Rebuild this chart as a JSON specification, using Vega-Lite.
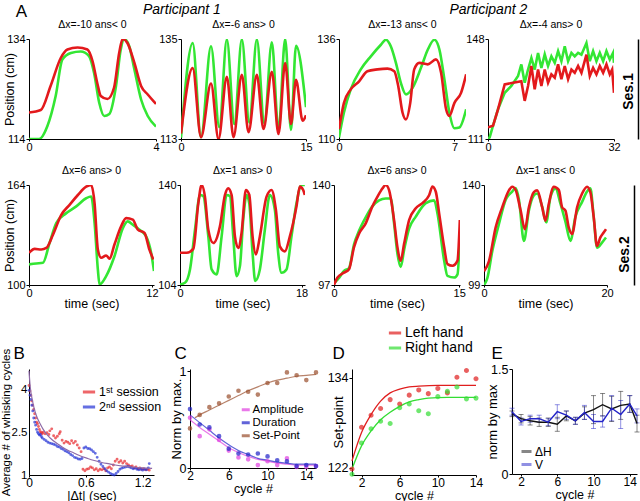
{
"$schema":"https://vega.github.io/schema/vega-lite/v6.json",
"padding":{"left":0,"top":2,"right":0,"bottom":0},
"background":"white",
"datasets":{
"p1":[{"t":0,"y":114,"h":"R"},{"t":0.32,"y":114,"h":"R"},{"t":0.58,"y":116.6,"h":"R"},{"t":0.84,"y":122.6,"h":"R"},{"t":1.05,"y":129.9,"h":"R"},{"t":1.32,"y":131.2,"h":"R"},{"t":1.63,"y":131.5,"h":"R"},{"t":1.89,"y":130.6,"h":"R"},{"t":2.05,"y":127.2,"h":"R"},{"t":2.21,"y":121.3,"h":"R"},{"t":2.37,"y":118.6,"h":"R"},{"t":2.53,"y":119,"h":"R"},{"t":2.74,"y":124.6,"h":"R"},{"t":2.89,"y":131.9,"h":"R"},{"t":3.0,"y":134,"h":"R"},{"t":3.16,"y":132.5,"h":"R"},{"t":3.32,"y":127.9,"h":"R"},{"t":3.53,"y":121.9,"h":"R"},{"t":3.74,"y":118.6,"h":"R"},{"t":4.0,"y":116.5,"h":"R"},
{"t":0,"y":119.3,"h":"L"},{"t":0.37,"y":119.8,"h":"L"},{"t":0.68,"y":124.6,"h":"L"},{"t":1.0,"y":130.2,"h":"L"},{"t":1.21,"y":131.9,"h":"L"},{"t":1.53,"y":132.3,"h":"L"},{"t":1.84,"y":131.9,"h":"L"},{"t":2.0,"y":129.6,"h":"L"},{"t":2.16,"y":124.9,"h":"L"},{"t":2.26,"y":122.6,"h":"L"},{"t":2.47,"y":122,"h":"L"},{"t":2.68,"y":124.3,"h":"L"},{"t":2.84,"y":131.2,"h":"L"},{"t":2.95,"y":134,"h":"L"},{"t":3.1,"y":133.2,"h":"L"},{"t":3.32,"y":129.2,"h":"L"},{"t":3.53,"y":124.6,"h":"L"},{"t":3.74,"y":122.9,"h":"L"},{"t":4.0,"y":121,"h":"L"}],
"p2":[{"t":0,"y":113.3,"h":"R"},{"t":1.4,"y":134.1,"h":"R"},{"t":2.4,"y":113.4,"h":"R"},{"t":3.6,"y":133.4,"h":"R"},{"t":4.6,"y":115.6,"h":"R"},{"t":5.5,"y":134.9,"h":"R"},{"t":6.4,"y":116.3,"h":"R"},{"t":7.3,"y":134.9,"h":"R"},{"t":8.2,"y":116.6,"h":"R"},{"t":9.1,"y":134.9,"h":"R"},{"t":10.0,"y":116.4,"h":"R"},{"t":10.9,"y":134.3,"h":"R"},{"t":11.7,"y":114.8,"h":"R"},{"t":12.5,"y":135,"h":"R"},{"t":13.2,"y":115,"h":"R"},{"t":13.8,"y":133.5,"h":"R"},{"t":15,"y":120,"h":"R"},
{"t":0,"y":114.2,"h":"L"},{"t":1.4,"y":128.6,"h":"L"},{"t":2.4,"y":113.4,"h":"L"},{"t":3.6,"y":125.2,"h":"L"},{"t":4.5,"y":113,"h":"L"},{"t":5.5,"y":126.7,"h":"L"},{"t":6.3,"y":113.4,"h":"L"},{"t":7.3,"y":127.1,"h":"L"},{"t":8.1,"y":114.5,"h":"L"},{"t":9.1,"y":127.1,"h":"L"},{"t":9.9,"y":115.2,"h":"L"},{"t":10.9,"y":127.8,"h":"L"},{"t":11.7,"y":114.1,"h":"L"},{"t":12.5,"y":129.7,"h":"L"},{"t":13.2,"y":116.3,"h":"L"},{"t":13.8,"y":126,"h":"L"},{"t":14.6,"y":117,"h":"L"},{"t":15,"y":118.2,"h":"L"}],
"p3":[{"t":0,"y":110.4,"h":"R"},{"t":0.3,"y":116.9,"h":"R"},{"t":0.71,"y":122.9,"h":"R"},{"t":1.32,"y":128.1,"h":"R"},{"t":1.93,"y":131.5,"h":"R"},{"t":2.54,"y":134.5,"h":"R"},{"t":2.84,"y":135.8,"h":"R"},{"t":3.14,"y":134.1,"h":"R"},{"t":3.45,"y":129.8,"h":"R"},{"t":3.75,"y":124.6,"h":"R"},{"t":4.06,"y":121.6,"h":"R"},{"t":4.46,"y":123.3,"h":"R"},{"t":4.97,"y":128.5,"h":"R"},{"t":5.38,"y":133.2,"h":"R"},{"t":5.78,"y":135.8,"h":"R"},{"t":6.09,"y":133.2,"h":"R"},{"t":6.39,"y":125.5,"h":"R"},{"t":6.69,"y":116.9,"h":"R"},{"t":7.0,"y":112.8,"h":"R"},{"t":7.3,"y":113,"h":"R"},{"t":7.71,"y":117.7,"h":"R"},
{"t":0,"y":112.6,"h":"L"},{"t":0.3,"y":119.4,"h":"L"},{"t":0.71,"y":122.9,"h":"L"},{"t":1.22,"y":125,"h":"L"},{"t":1.72,"y":127.6,"h":"L"},{"t":2.33,"y":128.1,"h":"L"},{"t":2.94,"y":128.3,"h":"L"},{"t":3.35,"y":127.6,"h":"L"},{"t":3.59,"y":123.8,"h":"L"},{"t":3.85,"y":116.9,"h":"L"},{"t":4.06,"y":115.1,"h":"L"},{"t":4.32,"y":119.4,"h":"L"},{"t":4.56,"y":128.1,"h":"L"},{"t":4.87,"y":129.8,"h":"L"},{"t":5.38,"y":129.4,"h":"L"},{"t":5.88,"y":130.7,"h":"L"},{"t":6.19,"y":127.2,"h":"L"},{"t":6.49,"y":117.8,"h":"L"},{"t":6.69,"y":116,"h":"L"},{"t":7.0,"y":119.4,"h":"L"},{"t":7.4,"y":122,"h":"L"},{"t":7.71,"y":126.8,"h":"L"}],
"p4":[{"t":0,"y":111.2,"h":"R"},{"t":0.42,"y":111.6,"h":"R"},{"t":1.27,"y":115.9,"h":"R"},{"t":2.54,"y":122,"h":"R"},{"t":4.24,"y":128.1,"h":"R"},{"t":5.93,"y":130.6,"h":"R"},{"t":7.63,"y":134.3,"h":"R"},{"t":8.47,"y":138.6,"h":"R"},{"t":9.32,"y":131.8,"h":"R"},{"t":10.17,"y":136.7,"h":"R"},{"t":11.02,"y":141,"h":"R"},{"t":11.86,"y":136.7,"h":"R"},{"t":12.71,"y":142.8,"h":"R"},{"t":13.56,"y":137.3,"h":"R"},{"t":14.41,"y":142.3,"h":"R"},{"t":15.25,"y":138,"h":"R"},{"t":16.1,"y":141.6,"h":"R"},{"t":16.95,"y":139.2,"h":"R"},{"t":17.8,"y":143.5,"h":"R"},{"t":18.64,"y":139.8,"h":"R"},{"t":19.49,"y":145.3,"h":"R"},{"t":20.34,"y":139.8,"h":"R"},{"t":21.19,"y":142.9,"h":"R"},{"t":22.03,"y":141.6,"h":"R"},{"t":22.88,"y":142.9,"h":"R"},{"t":23.73,"y":142.2,"h":"R"},{"t":25.0,"y":146.5,"h":"R"},{"t":25.85,"y":139.8,"h":"R"},{"t":26.69,"y":143.5,"h":"R"},{"t":27.54,"y":139.8,"h":"R"},{"t":28.39,"y":142.9,"h":"R"},{"t":29.24,"y":139.8,"h":"R"},{"t":30.08,"y":143.5,"h":"R"},{"t":30.93,"y":140.4,"h":"R"},{"t":31.78,"y":142.9,"h":"R"},{"t":32,"y":139.2,"h":"R"},
{"t":0,"y":115.3,"h":"L"},{"t":1.27,"y":115.9,"h":"L"},{"t":2.54,"y":122,"h":"L"},{"t":4.24,"y":131.2,"h":"L"},{"t":6.36,"y":131.8,"h":"L"},{"t":8.47,"y":132.4,"h":"L"},{"t":9.32,"y":125.1,"h":"L"},{"t":10.17,"y":130.6,"h":"L"},{"t":11.02,"y":138,"h":"L"},{"t":11.86,"y":129.4,"h":"L"},{"t":12.71,"y":136.7,"h":"L"},{"t":13.56,"y":130.6,"h":"L"},{"t":14.41,"y":136.7,"h":"L"},{"t":15.25,"y":131.8,"h":"L"},{"t":16.1,"y":134.9,"h":"L"},{"t":16.95,"y":133.7,"h":"L"},{"t":17.8,"y":138.6,"h":"L"},{"t":18.64,"y":133.1,"h":"L"},{"t":19.49,"y":138,"h":"L"},{"t":20.34,"y":133.1,"h":"L"},{"t":21.19,"y":136.7,"h":"L"},{"t":22.03,"y":135.5,"h":"L"},{"t":22.88,"y":138,"h":"L"},{"t":23.73,"y":135.5,"h":"L"},{"t":25.0,"y":142.2,"h":"L"},{"t":25.85,"y":134.3,"h":"L"},{"t":26.69,"y":137.3,"h":"L"},{"t":27.54,"y":134.9,"h":"L"},{"t":28.39,"y":138,"h":"L"},{"t":29.24,"y":135.5,"h":"L"},{"t":30.08,"y":138.6,"h":"L"},{"t":30.93,"y":134.9,"h":"L"},{"t":31.53,"y":136.7,"h":"L"},{"t":32,"y":128.1,"h":"L"}],
"p5":[{"t":0,"y":113.2,"h":"R"},{"t":0.71,"y":113.8,"h":"R"},{"t":1.36,"y":114.2,"h":"R"},{"t":2.01,"y":127,"h":"R"},{"t":2.66,"y":139.7,"h":"R"},{"t":3.64,"y":146,"h":"R"},{"t":4.61,"y":150.3,"h":"R"},{"t":5.58,"y":155.5,"h":"R"},{"t":6.07,"y":156.6,"h":"R"},{"t":6.4,"y":139.7,"h":"R"},{"t":6.72,"y":110,"h":"R"},{"t":6.88,"y":100.4,"h":"R"},{"t":7.53,"y":105.7,"h":"R"},{"t":8.34,"y":118.4,"h":"R"},{"t":9.16,"y":136.4,"h":"R"},{"t":9.64,"y":140.7,"h":"R"},{"t":10.13,"y":138.6,"h":"R"},{"t":10.78,"y":135.4,"h":"R"},{"t":11.43,"y":131.2,"h":"R"},{"t":11.92,"y":120.6,"h":"R"},{"t":12.2,"y":108.9,"h":"R"},
{"t":0,"y":120.6,"h":"L"},{"t":0.55,"y":123.1,"h":"L"},{"t":1.2,"y":122.7,"h":"L"},{"t":1.69,"y":123.7,"h":"L"},{"t":2.34,"y":132.2,"h":"L"},{"t":3.15,"y":144.9,"h":"L"},{"t":3.96,"y":151.3,"h":"L"},{"t":4.77,"y":157.6,"h":"L"},{"t":5.58,"y":162.9,"h":"L"},{"t":6.07,"y":164,"h":"L"},{"t":6.4,"y":152.3,"h":"L"},{"t":6.72,"y":122.7,"h":"L"},{"t":7.05,"y":117.4,"h":"L"},{"t":7.53,"y":118.9,"h":"L"},{"t":7.86,"y":116.8,"h":"L"},{"t":8.34,"y":125.9,"h":"L"},{"t":8.99,"y":137.5,"h":"L"},{"t":9.48,"y":142.8,"h":"L"},{"t":10.13,"y":141.8,"h":"L"},{"t":10.62,"y":135.4,"h":"L"},{"t":11.27,"y":133.3,"h":"L"},{"t":11.75,"y":122.7,"h":"L"},{"t":12.14,"y":116.3,"h":"L"}],
"p6":[{"t":0,"y":104.2,"h":"R"},{"t":0.74,"y":104.8,"h":"R"},{"t":1.48,"y":109.6,"h":"R"},{"t":2.22,"y":123.9,"h":"R"},{"t":2.96,"y":136.4,"h":"R"},{"t":3.45,"y":136,"h":"R"},{"t":4.19,"y":121.5,"h":"R"},{"t":4.68,"y":109.6,"h":"R"},{"t":5.42,"y":107.8,"h":"R"},{"t":6.16,"y":121.5,"h":"R"},{"t":6.9,"y":136.4,"h":"R"},{"t":7.39,"y":136,"h":"R"},{"t":7.88,"y":121.5,"h":"R"},{"t":8.37,"y":107.2,"h":"R"},{"t":8.87,"y":110.8,"h":"R"},{"t":9.36,"y":127.5,"h":"R"},{"t":9.85,"y":136.4,"h":"R"},{"t":10.25,"y":133.4,"h":"R"},{"t":10.74,"y":115.6,"h":"R"},{"t":11.13,"y":105.5,"h":"R"},{"t":11.82,"y":109.6,"h":"R"},{"t":12.56,"y":123.9,"h":"R"},{"t":13.3,"y":136.4,"h":"R"},{"t":14.04,"y":131.1,"h":"R"},{"t":14.53,"y":115.6,"h":"R"},{"t":15.02,"y":108.4,"h":"R"},{"t":15.76,"y":109.6,"h":"R"},{"t":16.5,"y":121.5,"h":"R"},{"t":17.24,"y":133.4,"h":"R"},{"t":17.98,"y":140,"h":"R"},{"t":18.47,"y":140,"h":"R"},
{"t":0,"y":115.6,"h":"L"},{"t":0.99,"y":115.6,"h":"L"},{"t":1.97,"y":117,"h":"L"},{"t":2.71,"y":133.4,"h":"L"},{"t":3.2,"y":140,"h":"L"},{"t":3.69,"y":135.8,"h":"L"},{"t":4.19,"y":123.9,"h":"L"},{"t":4.93,"y":119.1,"h":"L"},{"t":5.91,"y":125.1,"h":"L"},{"t":6.65,"y":136.4,"h":"L"},{"t":7.14,"y":138.8,"h":"L"},{"t":7.64,"y":136.4,"h":"L"},{"t":8.13,"y":121.5,"h":"L"},{"t":8.62,"y":117.3,"h":"L"},{"t":9.11,"y":122.7,"h":"L"},{"t":9.75,"y":138.2,"h":"L"},{"t":10.25,"y":136.5,"h":"L"},{"t":10.74,"y":121.5,"h":"L"},{"t":11.23,"y":115,"h":"L"},{"t":11.82,"y":121.5,"h":"L"},{"t":12.81,"y":135.8,"h":"L"},{"t":13.55,"y":138.2,"h":"L"},{"t":14.19,"y":131.1,"h":"L"},{"t":14.78,"y":117.9,"h":"L"},{"t":15.52,"y":116.1,"h":"L"},{"t":16.26,"y":121.5,"h":"L"},{"t":17.24,"y":132.3,"h":"L"},{"t":17.73,"y":139.4,"h":"L"},{"t":18.23,"y":138.2,"h":"L"},{"t":18.47,"y":136.4,"h":"L"}],
"p7":[{"t":0,"y":97.7,"h":"R"},{"t":0.6,"y":100,"h":"R"},{"t":1.2,"y":103.1,"h":"R"},{"t":1.8,"y":104.3,"h":"R"},{"t":2.4,"y":114.5,"h":"R"},{"t":3.0,"y":120.3,"h":"R"},{"t":3.8,"y":126.1,"h":"R"},{"t":4.6,"y":130.8,"h":"R"},{"t":5.4,"y":133.4,"h":"R"},{"t":6.2,"y":134.2,"h":"R"},{"t":6.8,"y":134.2,"h":"R"},{"t":7.2,"y":123.5,"h":"R"},{"t":7.6,"y":110.5,"h":"R"},{"t":8.0,"y":104.8,"h":"R"},{"t":8.4,"y":112.1,"h":"R"},{"t":9.0,"y":121.2,"h":"R"},{"t":9.8,"y":126.4,"h":"R"},{"t":11.0,"y":132.2,"h":"R"},{"t":12.0,"y":133.4,"h":"R"},{"t":12.4,"y":127.8,"h":"R"},{"t":13.2,"y":107.5,"h":"R"},{"t":13.6,"y":100.9,"h":"R"},{"t":14.4,"y":100.2,"h":"R"},{"t":14.8,"y":101.6,"h":"R"},{"t":15.08,"y":117.4,"h":"R"},
{"t":0,"y":97,"h":"L"},{"t":0.4,"y":100.1,"h":"L"},{"t":1.2,"y":102.3,"h":"L"},{"t":1.8,"y":103.8,"h":"L"},{"t":2.4,"y":113.3,"h":"L"},{"t":3.0,"y":119.1,"h":"L"},{"t":3.8,"y":123.5,"h":"L"},{"t":4.6,"y":130.8,"h":"L"},{"t":5.2,"y":134.9,"h":"L"},{"t":5.8,"y":138.5,"h":"L"},{"t":6.2,"y":140,"h":"L"},{"t":6.6,"y":137.8,"h":"L"},{"t":7.2,"y":124.9,"h":"L"},{"t":7.6,"y":113.3,"h":"L"},{"t":8.0,"y":107.5,"h":"L"},{"t":8.4,"y":114.7,"h":"L"},{"t":9.0,"y":124.9,"h":"L"},{"t":9.8,"y":130,"h":"L"},{"t":10.6,"y":132.2,"h":"L"},{"t":11.4,"y":135.6,"h":"L"},{"t":11.8,"y":139.3,"h":"L"},{"t":12.2,"y":137.1,"h":"L"},{"t":12.6,"y":127.8,"h":"L"},{"t":13.2,"y":113.3,"h":"L"},{"t":13.6,"y":106,"h":"L"},{"t":14.2,"y":105.3,"h":"L"},{"t":14.8,"y":107.5,"h":"L"},{"t":15.08,"y":124.9,"h":"L"}],
"p8":[{"t":0,"y":99,"h":"R"},{"t":0.54,"y":101.8,"h":"R"},{"t":1.35,"y":112.9,"h":"R"},{"t":2.43,"y":124,"h":"R"},{"t":3.51,"y":133.8,"h":"R"},{"t":4.59,"y":137.3,"h":"R"},{"t":5.14,"y":138.7,"h":"R"},{"t":5.68,"y":134,"h":"R"},{"t":6.49,"y":117.1,"h":"R"},{"t":7.3,"y":129.6,"h":"R"},{"t":8.11,"y":135.8,"h":"R"},{"t":8.65,"y":136.5,"h":"R"},{"t":9.46,"y":131,"h":"R"},{"t":10.11,"y":124.7,"h":"R"},{"t":10.81,"y":135.1,"h":"R"},{"t":11.62,"y":138.6,"h":"R"},{"t":12.43,"y":132.4,"h":"R"},{"t":13.24,"y":125,"h":"R"},{"t":14.05,"y":117.1,"h":"R"},{"t":14.86,"y":126.9,"h":"R"},{"t":15.95,"y":133.1,"h":"R"},{"t":16.76,"y":137.3,"h":"R"},{"t":17.3,"y":138.6,"h":"R"},{"t":17.84,"y":126.8,"h":"R"},{"t":18.38,"y":114.3,"h":"R"},{"t":19.19,"y":116.4,"h":"R"},{"t":19.84,"y":118.5,"h":"R"},
{"t":0,"y":104.6,"h":"L"},{"t":0.81,"y":108.8,"h":"L"},{"t":1.89,"y":122.6,"h":"L"},{"t":2.97,"y":130.9,"h":"L"},{"t":4.05,"y":137.8,"h":"L"},{"t":4.59,"y":139.3,"h":"L"},{"t":5.14,"y":138,"h":"L"},{"t":5.95,"y":129.6,"h":"L"},{"t":6.65,"y":121.9,"h":"L"},{"t":7.3,"y":130.9,"h":"L"},{"t":8.11,"y":137.1,"h":"L"},{"t":8.65,"y":137.8,"h":"L"},{"t":9.46,"y":130.9,"h":"L"},{"t":10.0,"y":125.4,"h":"L"},{"t":10.54,"y":132.3,"h":"L"},{"t":11.35,"y":139.3,"h":"L"},{"t":12.16,"y":138,"h":"L"},{"t":12.7,"y":130.9,"h":"L"},{"t":13.24,"y":129.5,"h":"L"},{"t":13.78,"y":122.6,"h":"L"},{"t":14.32,"y":119.9,"h":"L"},{"t":15.14,"y":130.9,"h":"L"},{"t":15.95,"y":136.5,"h":"L"},{"t":16.76,"y":139.3,"h":"L"},{"t":17.3,"y":137,"h":"L"},{"t":17.84,"y":126.8,"h":"L"},{"t":18.38,"y":115,"h":"L"},{"t":18.92,"y":118.5,"h":"L"},{"t":19.46,"y":120.5,"h":"L"},{"t":19.84,"y":121.9,"h":"L"}],
"b":[{"t":0,"v":4.14,"s":"1ˢᵗ session"},{"t":0.01,"v":3.95,"s":"1ˢᵗ session"},{"t":0.02,"v":3.8,"s":"1ˢᵗ session"},{"t":0.03,"v":3.6,"s":"1ˢᵗ session"},{"t":0.04,"v":3.45,"s":"1ˢᵗ session"},{"t":0.05,"v":3.3,"s":"1ˢᵗ session"},{"t":0.06,"v":3.15,"s":"1ˢᵗ session"},{"t":0.07,"v":3.0,"s":"1ˢᵗ session"},{"t":0.08,"v":2.85,"s":"1ˢᵗ session"},{"t":0.09,"v":2.8,"s":"1ˢᵗ session"},{"t":0.1,"v":2.7,"s":"1ˢᵗ session"},{"t":0.11,"v":2.6,"s":"1ˢᵗ session"},{"t":0.12,"v":2.52,"s":"1ˢᵗ session"},{"t":0.13,"v":2.48,"s":"1ˢᵗ session"},{"t":0.14,"v":2.45,"s":"1ˢᵗ session"},{"t":0.15,"v":2.5,"s":"1ˢᵗ session"},{"t":0.17,"v":2.45,"s":"1ˢᵗ session"},{"t":0.19,"v":2.48,"s":"1ˢᵗ session"},{"t":0.21,"v":2.42,"s":"1ˢᵗ session"},{"t":0.22,"v":2.55,"s":"1ˢᵗ session"},{"t":0.24,"v":2.62,"s":"1ˢᵗ session"},{"t":0.26,"v":2.38,"s":"1ˢᵗ session"},{"t":0.28,"v":2.3,"s":"1ˢᵗ session"},{"t":0.3,"v":2.36,"s":"1ˢᵗ session"},{"t":0.32,"v":2.45,"s":"1ˢᵗ session"},{"t":0.33,"v":2.52,"s":"1ˢᵗ session"},{"t":0.35,"v":2.22,"s":"1ˢᵗ session"},{"t":0.37,"v":2.12,"s":"1ˢᵗ session"},{"t":0.39,"v":2.18,"s":"1ˢᵗ session"},{"t":0.41,"v":2.15,"s":"1ˢᵗ session"},{"t":0.43,"v":2.1,"s":"1ˢᵗ session"},{"t":0.45,"v":2.2,"s":"1ˢᵗ session"},{"t":0.47,"v":2.12,"s":"1ˢᵗ session"},{"t":0.49,"v":2.18,"s":"1ˢᵗ session"},{"t":0.51,"v":2.05,"s":"1ˢᵗ session"},{"t":0.53,"v":1.95,"s":"1ˢᵗ session"},{"t":0.55,"v":1.82,"s":"1ˢᵗ session"},{"t":0.57,"v":1.2,"s":"1ˢᵗ session"},{"t":0.59,"v":1.15,"s":"1ˢᵗ session"},{"t":0.61,"v":1.2,"s":"1ˢᵗ session"},{"t":0.63,"v":1.22,"s":"1ˢᵗ session"},{"t":0.65,"v":1.28,"s":"1ˢᵗ session"},{"t":0.67,"v":1.25,"s":"1ˢᵗ session"},{"t":0.69,"v":1.18,"s":"1ˢᵗ session"},{"t":0.71,"v":1.22,"s":"1ˢᵗ session"},{"t":0.73,"v":1.15,"s":"1ˢᵗ session"},{"t":0.75,"v":1.2,"s":"1ˢᵗ session"},{"t":0.77,"v":1.18,"s":"1ˢᵗ session"},{"t":0.79,"v":1.22,"s":"1ˢᵗ session"},{"t":0.81,"v":1.15,"s":"1ˢᵗ session"},{"t":0.83,"v":1.25,"s":"1ˢᵗ session"},{"t":0.85,"v":1.28,"s":"1ˢᵗ session"},{"t":0.87,"v":1.22,"s":"1ˢᵗ session"},{"t":0.89,"v":1.35,"s":"1ˢᵗ session"},{"t":0.91,"v":1.48,"s":"1ˢᵗ session"},{"t":0.93,"v":1.55,"s":"1ˢᵗ session"},{"t":0.95,"v":1.45,"s":"1ˢᵗ session"},{"t":0.97,"v":1.5,"s":"1ˢᵗ session"},{"t":0.99,"v":1.42,"s":"1ˢᵗ session"},{"t":1.01,"v":1.48,"s":"1ˢᵗ session"},{"t":1.03,"v":1.4,"s":"1ˢᵗ session"},{"t":1.05,"v":1.35,"s":"1ˢᵗ session"},{"t":1.07,"v":1.3,"s":"1ˢᵗ session"},{"t":1.09,"v":1.32,"s":"1ˢᵗ session"},{"t":1.11,"v":1.25,"s":"1ˢᵗ session"},{"t":1.13,"v":1.28,"s":"1ˢᵗ session"},{"t":1.15,"v":1.22,"s":"1ˢᵗ session"},{"t":1.17,"v":1.25,"s":"1ˢᵗ session"},{"t":1.19,"v":1.2,"s":"1ˢᵗ session"},{"t":1.21,"v":1.22,"s":"1ˢᵗ session"},{"t":1.23,"v":1.18,"s":"1ˢᵗ session"},{"t":1.25,"v":1.2,"s":"1ˢᵗ session"},{"t":1.27,"v":1.17,"s":"1ˢᵗ session"},
{"t":0,"v":3.97,"s":"2ⁿᵈ session"},{"t":0.01,"v":3.8,"s":"2ⁿᵈ session"},{"t":0.02,"v":3.65,"s":"2ⁿᵈ session"},{"t":0.03,"v":3.45,"s":"2ⁿᵈ session"},{"t":0.04,"v":3.25,"s":"2ⁿᵈ session"},{"t":0.05,"v":3.0,"s":"2ⁿᵈ session"},{"t":0.06,"v":2.85,"s":"2ⁿᵈ session"},{"t":0.07,"v":2.75,"s":"2ⁿᵈ session"},{"t":0.08,"v":2.6,"s":"2ⁿᵈ session"},{"t":0.09,"v":2.5,"s":"2ⁿᵈ session"},{"t":0.1,"v":2.45,"s":"2ⁿᵈ session"},{"t":0.11,"v":2.4,"s":"2ⁿᵈ session"},{"t":0.12,"v":2.42,"s":"2ⁿᵈ session"},{"t":0.13,"v":2.35,"s":"2ⁿᵈ session"},{"t":0.14,"v":2.3,"s":"2ⁿᵈ session"},{"t":0.16,"v":2.25,"s":"2ⁿᵈ session"},{"t":0.18,"v":2.2,"s":"2ⁿᵈ session"},{"t":0.2,"v":2.15,"s":"2ⁿᵈ session"},{"t":0.22,"v":2.12,"s":"2ⁿᵈ session"},{"t":0.24,"v":2.1,"s":"2ⁿᵈ session"},{"t":0.26,"v":2.08,"s":"2ⁿᵈ session"},{"t":0.28,"v":2.05,"s":"2ⁿᵈ session"},{"t":0.3,"v":2.0,"s":"2ⁿᵈ session"},{"t":0.32,"v":1.98,"s":"2ⁿᵈ session"},{"t":0.34,"v":1.93,"s":"2ⁿᵈ session"},{"t":0.36,"v":1.9,"s":"2ⁿᵈ session"},{"t":0.38,"v":1.85,"s":"2ⁿᵈ session"},{"t":0.4,"v":1.82,"s":"2ⁿᵈ session"},{"t":0.42,"v":1.78,"s":"2ⁿᵈ session"},{"t":0.44,"v":1.72,"s":"2ⁿᵈ session"},{"t":0.46,"v":1.68,"s":"2ⁿᵈ session"},{"t":0.48,"v":1.62,"s":"2ⁿᵈ session"},{"t":0.5,"v":1.6,"s":"2ⁿᵈ session"},{"t":0.52,"v":1.56,"s":"2ⁿᵈ session"},{"t":0.54,"v":1.55,"s":"2ⁿᵈ session"},{"t":0.56,"v":1.58,"s":"2ⁿᵈ session"},{"t":0.58,"v":1.95,"s":"2ⁿᵈ session"},{"t":0.6,"v":1.98,"s":"2ⁿᵈ session"},{"t":0.62,"v":1.93,"s":"2ⁿᵈ session"},{"t":0.64,"v":1.92,"s":"2ⁿᵈ session"},{"t":0.66,"v":1.88,"s":"2ⁿᵈ session"},{"t":0.68,"v":1.82,"s":"2ⁿᵈ session"},{"t":0.7,"v":1.76,"s":"2ⁿᵈ session"},{"t":0.72,"v":1.62,"s":"2ⁿᵈ session"},{"t":0.74,"v":1.48,"s":"2ⁿᵈ session"},{"t":0.76,"v":1.38,"s":"2ⁿᵈ session"},{"t":0.78,"v":1.3,"s":"2ⁿᵈ session"},{"t":0.8,"v":1.22,"s":"2ⁿᵈ session"},{"t":0.82,"v":1.15,"s":"2ⁿᵈ session"},{"t":0.84,"v":1.1,"s":"2ⁿᵈ session"},{"t":0.86,"v":1.05,"s":"2ⁿᵈ session"},{"t":0.88,"v":1.02,"s":"2ⁿᵈ session"},{"t":0.9,"v":1.0,"s":"2ⁿᵈ session"},{"t":0.92,"v":1.05,"s":"2ⁿᵈ session"},{"t":0.94,"v":1.12,"s":"2ⁿᵈ session"},{"t":0.96,"v":1.2,"s":"2ⁿᵈ session"},{"t":0.98,"v":1.24,"s":"2ⁿᵈ session"},{"t":1.0,"v":1.26,"s":"2ⁿᵈ session"},{"t":1.02,"v":1.28,"s":"2ⁿᵈ session"},{"t":1.04,"v":1.3,"s":"2ⁿᵈ session"},{"t":1.06,"v":1.28,"s":"2ⁿᵈ session"},{"t":1.08,"v":1.25,"s":"2ⁿᵈ session"},{"t":1.1,"v":1.22,"s":"2ⁿᵈ session"},{"t":1.12,"v":1.24,"s":"2ⁿᵈ session"},{"t":1.14,"v":1.2,"s":"2ⁿᵈ session"},{"t":1.16,"v":1.18,"s":"2ⁿᵈ session"},{"t":1.18,"v":1.2,"s":"2ⁿᵈ session"},{"t":1.2,"v":1.17,"s":"2ⁿᵈ session"},{"t":1.22,"v":1.2,"s":"2ⁿᵈ session"},{"t":1.24,"v":1.18,"s":"2ⁿᵈ session"},{"t":1.26,"v":1.25,"s":"2ⁿᵈ session"},{"t":1.27,"v":1.4,"s":"2ⁿᵈ session"}],
"bfit":[{"t":0,"v":4.66},{"t":0.01,"v":4.2},{"t":0.02,"v":3.9},{"t":0.03,"v":3.72},{"t":0.05,"v":3.4},{"t":0.065,"v":3.21},{"t":0.09,"v":2.98},{"t":0.12,"v":2.78},{"t":0.15,"v":2.6},{"t":0.19,"v":2.42},{"t":0.25,"v":2.22},{"t":0.3,"v":2.1},{"t":0.35,"v":1.98},{"t":0.41,"v":1.87},{"t":0.47,"v":1.78},{"t":0.52,"v":1.7},{"t":0.62,"v":1.58},{"t":0.7,"v":1.5},{"t":0.77,"v":1.44},{"t":0.85,"v":1.39},{"t":0.91,"v":1.35},{"t":1.0,"v":1.31},{"t":1.09,"v":1.28},{"t":1.2,"v":1.25},{"t":1.3,"v":1.23}],
"c":[{"n":2,"v":0.41,"m":"Set-Point"},{"n":3,"v":0.55,"m":"Set-Point"},{"n":4,"v":0.63,"m":"Set-Point"},{"n":5,"v":0.67,"m":"Set-Point"},{"n":6,"v":0.74,"m":"Set-Point"},{"n":7,"v":0.8,"m":"Set-Point"},{"n":8,"v":0.79,"m":"Set-Point"},{"n":9,"v":0.76,"m":"Set-Point"},{"n":10,"v":0.88,"m":"Set-Point"},{"n":11,"v":0.88,"m":"Set-Point"},{"n":12,"v":0.99,"m":"Set-Point"},{"n":13,"v":0.96,"m":"Set-Point"},{"n":14,"v":0.91,"m":"Set-Point"},{"n":15,"v":0.99,"m":"Set-Point"},
{"n":2,"v":0.52,"m":"Amplitude"},{"n":3,"v":0.33,"m":"Amplitude"},{"n":4,"v":0.4,"m":"Amplitude"},{"n":5,"v":0.29,"m":"Amplitude"},{"n":6,"v":0.18,"m":"Amplitude"},{"n":7,"v":0.11,"m":"Amplitude"},{"n":8,"v":0.09,"m":"Amplitude"},{"n":9,"v":0.03,"m":"Amplitude"},{"n":10,"v":0.07,"m":"Amplitude"},{"n":11,"v":0.03,"m":"Amplitude"},{"n":12,"v":0.1,"m":"Amplitude"},{"n":13,"v":0.01,"m":"Amplitude"},{"n":14,"v":0.01,"m":"Amplitude"},{"n":15,"v":0.02,"m":"Amplitude"},
{"n":2,"v":0.61,"m":"Duration"},{"n":3,"v":0.45,"m":"Duration"},{"n":4,"v":0.42,"m":"Duration"},{"n":5,"v":0.33,"m":"Duration"},{"n":6,"v":0.2,"m":"Duration"},{"n":7,"v":0.15,"m":"Duration"},{"n":8,"v":0.14,"m":"Duration"},{"n":9,"v":0.15,"m":"Duration"},{"n":10,"v":0.12,"m":"Duration"},{"n":11,"v":0.08,"m":"Duration"},{"n":12,"v":0.07,"m":"Duration"},{"n":13,"v":0.02,"m":"Duration"},{"n":14,"v":0.03,"m":"Duration"},{"n":15,"v":0.02,"m":"Duration"}],
"cfit":[{"n":2.5,"v":0.52,"m":"Set-Point"},{"n":3,"v":0.55,"m":"Set-Point"},{"n":4,"v":0.6,"m":"Set-Point"},{"n":5,"v":0.65,"m":"Set-Point"},{"n":6,"v":0.7,"m":"Set-Point"},{"n":7,"v":0.75,"m":"Set-Point"},{"n":8,"v":0.8,"m":"Set-Point"},{"n":9,"v":0.84,"m":"Set-Point"},{"n":10,"v":0.88,"m":"Set-Point"},{"n":11,"v":0.91,"m":"Set-Point"},{"n":12,"v":0.93,"m":"Set-Point"},{"n":13,"v":0.95,"m":"Set-Point"},{"n":14,"v":0.96,"m":"Set-Point"},{"n":15,"v":0.97,"m":"Set-Point"},
{"n":2,"v":0.5,"m":"Amplitude"},{"n":3,"v":0.42,"m":"Amplitude"},{"n":4,"v":0.35,"m":"Amplitude"},{"n":5,"v":0.28,"m":"Amplitude"},{"n":6,"v":0.21,"m":"Amplitude"},{"n":7,"v":0.16,"m":"Amplitude"},{"n":8,"v":0.12,"m":"Amplitude"},{"n":9,"v":0.09,"m":"Amplitude"},{"n":10,"v":0.07,"m":"Amplitude"},{"n":11,"v":0.05,"m":"Amplitude"},{"n":12,"v":0.04,"m":"Amplitude"},{"n":13,"v":0.03,"m":"Amplitude"},{"n":14,"v":0.03,"m":"Amplitude"},{"n":15,"v":0.03,"m":"Amplitude"},
{"n":2,"v":0.55,"m":"Duration"},{"n":3,"v":0.47,"m":"Duration"},{"n":4,"v":0.39,"m":"Duration"},{"n":5,"v":0.31,"m":"Duration"},{"n":6,"v":0.24,"m":"Duration"},{"n":7,"v":0.18,"m":"Duration"},{"n":8,"v":0.14,"m":"Duration"},{"n":9,"v":0.1,"m":"Duration"},{"n":10,"v":0.08,"m":"Duration"},{"n":11,"v":0.06,"m":"Duration"},{"n":12,"v":0.05,"m":"Duration"},{"n":13,"v":0.04,"m":"Duration"},{"n":14,"v":0.04,"m":"Duration"},{"n":15,"v":0.04,"m":"Duration"}],
"d":[{"n":1,"v":121.8,"h":"Left hand"},{"n":2,"v":127.4,"h":"Left hand"},{"n":3,"v":129.0,"h":"Left hand"},{"n":4,"v":129.9,"h":"Left hand"},{"n":5,"v":131.1,"h":"Left hand"},{"n":6,"v":130.5,"h":"Left hand"},{"n":7,"v":131.7,"h":"Left hand"},{"n":8,"v":132.4,"h":"Left hand"},{"n":9,"v":131.9,"h":"Left hand"},{"n":10,"v":132.6,"h":"Left hand"},{"n":11,"v":132.0,"h":"Left hand"},{"n":12,"v":134.1,"h":"Left hand"},{"n":13,"v":135.0,"h":"Left hand"},{"n":14,"v":133.9,"h":"Left hand"},
{"n":1,"v":121.1,"h":"Right hand"},{"n":2,"v":125.3,"h":"Right hand"},{"n":3,"v":127.2,"h":"Right hand"},{"n":4,"v":128.2,"h":"Right hand"},{"n":5,"v":127.9,"h":"Right hand"},{"n":6,"v":130.0,"h":"Right hand"},{"n":7,"v":130.5,"h":"Right hand"},{"n":8,"v":129.6,"h":"Right hand"},{"n":9,"v":129.2,"h":"Right hand"},{"n":10,"v":131.5,"h":"Right hand"},{"n":11,"v":132.2,"h":"Right hand"},{"n":12,"v":132.8,"h":"Right hand"},{"n":13,"v":131.2,"h":"Right hand"},{"n":14,"v":131.3,"h":"Right hand"}],
"dfit":[{"n":1,"v":122.9,"h":"Left hand"},{"n":2,"v":126.7,"h":"Left hand"},{"n":3,"v":129.1,"h":"Left hand"},{"n":4,"v":130.9,"h":"Left hand"},{"n":5,"v":132,"h":"Left hand"},{"n":6,"v":132.5,"h":"Left hand"},{"n":7,"v":132.8,"h":"Left hand"},{"n":8,"v":132.9,"h":"Left hand"},{"n":10,"v":133,"h":"Left hand"},{"n":12,"v":133,"h":"Left hand"},{"n":14,"v":133,"h":"Left hand"},
{"n":1,"v":121.8,"h":"Right hand"},{"n":2,"v":124.9,"h":"Right hand"},{"n":3,"v":126.9,"h":"Right hand"},{"n":4,"v":128.4,"h":"Right hand"},{"n":5,"v":129.4,"h":"Right hand"},{"n":6,"v":130.2,"h":"Right hand"},{"n":7,"v":130.8,"h":"Right hand"},{"n":8,"v":131.1,"h":"Right hand"},{"n":9,"v":131.3,"h":"Right hand"},{"n":11,"v":131.4,"h":"Right hand"},{"n":14,"v":131.4,"h":"Right hand"}],
"e":[{"n":1,"v":0.86,"err":0.04,"k":"ΔH"},{"n":2,"v":0.79,"err":0.06,"k":"ΔH"},{"n":3,"v":0.76,"err":0.06,"k":"ΔH"},{"n":4,"v":0.74,"err":0.06,"k":"ΔH"},{"n":5,"v":0.74,"err":0.06,"k":"ΔH"},{"n":6,"v":0.71,"err":0.1,"k":"ΔH"},{"n":7,"v":0.83,"err":0.07,"k":"ΔH"},{"n":8,"v":0.76,"err":0.05,"k":"ΔH"},{"n":9,"v":0.87,"err":0.09,"k":"ΔH"},{"n":10,"v":0.92,"err":0.2,"k":"ΔH"},{"n":11,"v":0.99,"err":0.16,"k":"ΔH"},{"n":12,"v":0.93,"err":0.18,"k":"ΔH"},{"n":13,"v":0.98,"err":0.2,"k":"ΔH"},{"n":14,"v":1.0,"err":0.12,"k":"ΔH"},{"n":14.8,"v":0.72,"err":0.12,"k":"ΔH"},
{"n":1,"v":0.89,"err":0.05,"k":"V"},{"n":2,"v":0.75,"err":0.05,"k":"V"},{"n":3,"v":0.79,"err":0.05,"k":"V"},{"n":4,"v":0.79,"err":0.05,"k":"V"},{"n":5,"v":0.74,"err":0.05,"k":"V"},{"n":6,"v":0.89,"err":0.1,"k":"V"},{"n":7,"v":0.84,"err":0.06,"k":"V"},{"n":8,"v":0.76,"err":0.05,"k":"V"},{"n":9,"v":0.88,"err":0.1,"k":"V"},{"n":10,"v":0.75,"err":0.1,"k":"V"},{"n":11,"v":0.75,"err":0.08,"k":"V"},{"n":12,"v":0.94,"err":0.18,"k":"V"},{"n":13,"v":0.85,"err":0.2,"k":"V"},{"n":14,"v":1.0,"err":0.12,"k":"V"},{"n":14.8,"v":0.83,"err":0.1,"k":"V"}]
},
"spacing":13,
"vconcat":[
{"title":{"text":"A","anchor":"start","fontSize":17,"offset":-18,"dx":12},
 "spacing":3,
 "hconcat":[
  {"title":{"text":"Participant 1","anchor":"middle","fontSize":14,"fontStyle":"italic","dx":24,"offset":3},
   "bounds":"flush","spacing":25,
   "hconcat":[
    {"width":127,"height":100,"title":"Δx=-10 ans< 0","data":{"name":"p1"},
     "mark":{"type":"line","interpolate":"monotone","strokeWidth":2.6,"clip":true},
     "encoding":{"x":{"field":"t","type":"quantitative","scale":{"domain":[0,4],"nice":false,"zero":false},"axis":{"values":[0,4],"title":null}},
      "y":{"field":"y","type":"quantitative","scale":{"domain":[114,134],"nice":false,"zero":false},"axis":{"values":[114,134],"title":"Position (cm)","titlePadding":-10}},
      "color":{"field":"h","type":"nominal","scale":{"domain":["R","L"],"range":["#33e633","#e3191c"]},"legend":null}}},
    {"width":125,"height":100,"title":"Δx=-6 ans> 0","data":{"name":"p2"},
     "mark":{"type":"line","interpolate":"monotone","strokeWidth":2.6,"clip":true},
     "encoding":{"x":{"field":"t","type":"quantitative","scale":{"domain":[0,15],"nice":false,"zero":false},"axis":{"values":[0,15],"title":null}},
      "y":{"field":"y","type":"quantitative","scale":{"domain":[113,135],"nice":false,"zero":false},"axis":{"values":[113,135],"title":null}},
      "color":{"field":"h","type":"nominal","scale":{"domain":["R","L"],"range":["#33e633","#e3191c"]},"legend":null}}}
   ],
   "resolve":{"scale":{"color":"independent"}}},
  {"title":{"text":"Participant 2","anchor":"middle","fontSize":14,"fontStyle":"italic","dx":11,"offset":3},
   "bounds":"flush","spacing":22,
   "hconcat":[
    {"width":127,"height":100,"title":"Δx=-13 ans< 0","data":{"name":"p3"},
     "mark":{"type":"line","interpolate":"monotone","strokeWidth":2.6,"clip":true},
     "encoding":{"x":{"field":"t","type":"quantitative","scale":{"domain":[0,7.7],"nice":false,"zero":false},"axis":{"values":[0,7],"title":null}},
      "y":{"field":"y","type":"quantitative","scale":{"domain":[110,136],"nice":false,"zero":false},"axis":{"values":[110,136],"title":null}},
      "color":{"field":"h","type":"nominal","scale":{"domain":["R","L"],"range":["#33e633","#e3191c"]},"legend":null}}},
    {"width":126,"height":100,"title":"Δx=-4 ans> 0","data":{"name":"p4"},
     "layer":[
      {"transform":[{"filter":"datum.h == 'R'"}],"mark":{"type":"line","strokeWidth":2.6,"clip":true},
       "encoding":{"x":{"field":"t","type":"quantitative","scale":{"domain":[0,32],"nice":false,"zero":false},"axis":{"values":[0,32],"title":null}},
        "y":{"field":"y","type":"quantitative","scale":{"domain":[111,148],"nice":false,"zero":false},"axis":{"orient":"right","offset":24,"domainWidth":1.5,"ticks":false,"labels":false,"title":"Ses.1","titleFontSize":14,"titleFontWeight":"bold","titleAngle":270,"titleX":-3,"titleY":52,"titleAlign":"center","titleBaseline":"bottom"}},
        "color":{"field":"h","type":"nominal","scale":{"domain":["R","L"],"range":["#33e633","#e3191c"]},"legend":null}}},
      {"transform":[{"filter":"datum.h == 'L'"}],"mark":{"type":"line","strokeWidth":2.6,"clip":true},
       "encoding":{"x":{"field":"t","type":"quantitative"},
        "y":{"field":"y","type":"quantitative","scale":{"domain":[111,148],"nice":false,"zero":false},"axis":{"values":[111,148],"title":null}},
        "color":{"field":"h","type":"nominal","legend":null}}}
     ],
     "resolve":{"scale":{"y":"independent"}}}
   ],
   "resolve":{"scale":{"color":"independent"}}}
 ],
 "resolve":{"scale":{"color":"independent"}}},
{"spacing":15,
 "vconcat":[
 {"spacing":3,
 "hconcat":[
  {"bounds":"flush","spacing":26,
   "hconcat":[
    {"width":125,"height":100,"title":"Δx=6 ans> 0","data":{"name":"p5"},
     "mark":{"type":"line","interpolate":"monotone","strokeWidth":2.6,"clip":true},
     "encoding":{"x":{"field":"t","type":"quantitative","scale":{"domain":[0,12.2],"nice":false,"zero":false},"axis":{"values":[0,12],"title":"time (sec)"}},
      "y":{"field":"y","type":"quantitative","scale":{"domain":[100,164],"nice":false,"zero":false},"axis":{"values":[100,164],"title":"Position (cm)","titlePadding":-10}},
      "color":{"field":"h","type":"nominal","scale":{"domain":["R","L"],"range":["#33e633","#e3191c"]},"legend":null}}},
    {"width":125,"height":100,"title":"Δx=1 ans> 0","data":{"name":"p6"},
     "mark":{"type":"line","interpolate":"monotone","strokeWidth":2.6,"clip":true},
     "encoding":{"x":{"field":"t","type":"quantitative","scale":{"domain":[0,18.5],"nice":false,"zero":false},"axis":{"values":[0,18],"title":"time (sec)"}},
      "y":{"field":"y","type":"quantitative","scale":{"domain":[104,140],"nice":false,"zero":false},"axis":{"values":[104,140],"title":null}},
      "color":{"field":"h","type":"nominal","scale":{"domain":["R","L"],"range":["#33e633","#e3191c"]},"legend":null}}}
   ],
   "resolve":{"scale":{"color":"independent"}}},
  {"bounds":"flush","spacing":24,
   "hconcat":[
    {"width":126,"height":100,"title":"Δx=6 ans> 0","data":{"name":"p7"},
     "mark":{"type":"line","interpolate":"monotone","strokeWidth":2.6,"clip":true},
     "encoding":{"x":{"field":"t","type":"quantitative","scale":{"domain":[0,15.1],"nice":false,"zero":false},"axis":{"values":[0,15],"title":"time (sec)"}},
      "y":{"field":"y","type":"quantitative","scale":{"domain":[97,140],"nice":false,"zero":false},"axis":{"values":[97,140],"title":null}},
      "color":{"field":"h","type":"nominal","scale":{"domain":["R","L"],"range":["#33e633","#e3191c"]},"legend":null}}},
    {"width":123,"height":100,"title":"Δx=1 ans< 0","data":{"name":"p8"},
     "layer":[
      {"transform":[{"filter":"datum.h == 'R'"}],"mark":{"type":"line","interpolate":"monotone","strokeWidth":2.6,"clip":true},
       "encoding":{"x":{"field":"t","type":"quantitative","scale":{"domain":[0,20],"nice":false,"zero":false},"axis":{"values":[0,20],"title":"time (sec)"}},
        "y":{"field":"y","type":"quantitative","scale":{"domain":[99,140],"nice":false,"zero":false},"axis":{"orient":"right","offset":27,"domainWidth":1.5,"ticks":false,"labels":false,"title":"Ses.2","titleFontSize":14,"titleFontWeight":"bold","titleAngle":270,"titleX":-3,"titleY":69,"titleAlign":"center","titleBaseline":"bottom"}},
        "color":{"field":"h","type":"nominal","scale":{"domain":["R","L"],"range":["#33e633","#e3191c"]},"legend":null}}},
      {"transform":[{"filter":"datum.h == 'L'"}],"mark":{"type":"line","interpolate":"monotone","strokeWidth":2.6,"clip":true},
       "encoding":{"x":{"field":"t","type":"quantitative"},
        "y":{"field":"y","type":"quantitative","scale":{"domain":[99,140],"nice":false,"zero":false},"axis":{"values":[99,140],"title":null}},
        "color":{"field":"h","type":"nominal","legend":null}}}
     ],
     "resolve":{"scale":{"y":"independent"}}}
   ],
   "resolve":{"scale":{"color":"independent"}}}
 ],
 "resolve":{"scale":{"color":"independent"}}},
{"bounds":"flush","spacing":36,
 "hconcat":[
  {"width":125,"height":106,
   "layer":[
    {"data":{"name":"b"},"mark":{"type":"point","filled":false,"size":2,"strokeWidth":1.5},
     "encoding":{"x":{"field":"t","type":"quantitative","scale":{"domain":[0,1.32],"nice":false,"zero":false},"axis":{"values":[0,0.6,1.2],"format":".2~g","title":"|Δt| (sec)","labelFontSize":12,"tickSize":2,"labelPadding":0,"titlePadding":1}},
      "y":{"field":"v","type":"quantitative","scale":{"domain":[1,4.72],"nice":false,"zero":false},"axis":{"values":[1,2.5,4],"format":".2~g","title":"Average # of whisking cycles","ticks":false,"labelPadding":2,"titlePadding":0,"labelFontSize":11.5,"titleFontSize":11.5}},
      "color":{"field":"s","type":"nominal","scale":{"domain":["1ˢᵗ session","2ⁿᵈ session"],"range":["#e8262b","#2433d6"]},"legend":{"orient":"none","legendX":52,"legendY":15,"title":null,"labelFontSize":12.5}}}},
    {"data":{"name":"bfit"},"mark":{"type":"line","color":"#8e6aa8","strokeWidth":1.2,"interpolate":"monotone"},
     "encoding":{"x":{"field":"t","type":"quantitative","scale":{"domain":[0,1.32],"nice":false,"zero":false},"axis":{"orient":"top","domain":false,"ticks":false,"labels":false,"title":"B","titleFontSize":17,"titleX":-16,"titleY":-11,"titleAlign":"left","titleBaseline":"alphabetic"}},"y":{"field":"v","type":"quantitative"}}}
   ],
   "resolve":{"scale":{"x":"independent"}}},
  {"width":126,"height":99,
   "layer":[
    {"data":{"name":"cfit"},"mark":{"type":"line","strokeWidth":1.2,"opacity":0.7,"interpolate":"monotone"},
     "encoding":{"x":{"field":"n","type":"quantitative","scale":{"domain":[2,15],"nice":false,"zero":false},"axis":{"values":[2,6,10,14],"title":"cycle #","labelFontSize":12,"tickSize":2,"labelPadding":0,"titlePadding":1}},
      "y":{"field":"v","type":"quantitative","scale":{"domain":[0,1.025],"nice":false,"zero":false},"axis":{"values":[0,1],"format":".2~g","title":"Norm by max.","titlePadding":-4,"labelFontSize":12.5,"titleFontSize":13}},
      "color":{"field":"m","type":"nominal","scale":{"domain":["Amplitude","Duration","Set-Point"],"range":["#e040e0","#1f22c8","#9a4e2c"]},"legend":{"orient":"none","legendX":50,"legendY":35,"title":null,"labelFontSize":11.5,"symbolSize":64,"labelOffset":1}}}},
    {"data":{"name":"c"},"mark":{"type":"point","filled":false,"size":5,"strokeWidth":2.4},
     "encoding":{"x":{"field":"n","type":"quantitative","scale":{"domain":[2,15],"nice":false,"zero":false},"axis":{"orient":"top","domain":false,"ticks":false,"labels":false,"title":"C","titleFontSize":17,"titleX":-16,"titleY":-11,"titleAlign":"left","titleBaseline":"alphabetic"}},"y":{"field":"v","type":"quantitative"},"color":{"field":"m","type":"nominal"}}}
   ],
   "resolve":{"scale":{"x":"independent"}}},
  {"width":124,"height":106,
   "layer":[
    {"data":{"name":"dfit"},"mark":{"type":"line","strokeWidth":1.3,"interpolate":"monotone"},
     "encoding":{"x":{"field":"n","type":"quantitative","scale":{"domain":[1,14],"nice":false,"zero":false},"axis":{"values":[2,6,10,14],"title":"cycle #","labelFontSize":12,"tickSize":2,"labelPadding":0,"titlePadding":1}},
      "y":{"field":"v","type":"quantitative","scale":{"domain":[121,135.2],"nice":false,"zero":false},"axis":{"values":[122,134],"title":"Set-point","titlePadding":-18,"labelFontSize":12.5,"titleFontSize":13}},
      "color":{"field":"h","type":"nominal","scale":{"domain":["Left hand","Right hand"],"range":["#e01e1e","#33dd33"]},"legend":{"orient":"none","legendX":35,"legendY":-44,"title":null,"labelFontSize":14,"rowPadding":0}}}},
    {"data":{"name":"d"},"mark":{"type":"point","filled":false,"size":6,"strokeWidth":2.6},
     "encoding":{"x":{"field":"n","type":"quantitative","scale":{"domain":[1,14],"nice":false,"zero":false},"axis":{"orient":"top","domain":false,"ticks":false,"labels":false,"title":"D","titleFontSize":17,"titleX":-20,"titleY":-11,"titleAlign":"left","titleBaseline":"alphabetic"}},"y":{"field":"v","type":"quantitative"},"color":{"field":"h","type":"nominal"}}}
   ],
   "resolve":{"scale":{"x":"independent"}}},
  {"width":125,"height":105,
   "layer":[
    {"data":{"name":"e"},"mark":{"type":"errorbar","ticks":true,"opacity":0.5},
     "encoding":{"x":{"field":"n","type":"quantitative","scale":{"domain":[1,14.8],"nice":false,"zero":false},"axis":{"values":[2,6,10,14],"title":"cycle #","labelFontSize":12,"tickSize":2,"labelPadding":0,"titlePadding":1}},
      "y":{"field":"v","type":"quantitative","scale":{"domain":[0,1.5],"nice":false,"zero":false},"axis":{"values":[0,1.5],"format":".2~g","title":"norm by max","titlePadding":-9,"labelFontSize":12.5,"titleFontSize":13}},
      "yError":{"field":"err"},
      "color":{"field":"k","type":"nominal"}}},
    {"data":{"name":"e"},"mark":{"type":"line","strokeWidth":1.4},
     "encoding":{"x":{"field":"n","type":"quantitative","scale":{"domain":[1,14.8],"nice":false,"zero":false},"axis":{"orient":"top","domain":false,"ticks":false,"labels":false,"title":"E","titleFontSize":17,"titleX":-21,"titleY":-11,"titleAlign":"left","titleBaseline":"alphabetic"}},"y":{"field":"v","type":"quantitative"},
      "color":{"field":"k","type":"nominal","scale":{"domain":["ΔH","V"],"range":["#111111","#2424c8"]},"legend":{"orient":"none","legendX":8,"legendY":76,"title":null,"labelFontSize":12,"symbolSize":100}}}}
   ],
   "resolve":{"scale":{"x":"independent"}}}
 ],
 "resolve":{"scale":{"color":"independent"}}}
 ],
 "resolve":{"scale":{"color":"independent"}}}
],
"resolve":{"scale":{"color":"independent"}},
"config":{
 "font":"Liberation Sans",
 "view":{"stroke":null},
 "axis":{"grid":false,"domainColor":"#000","tickColor":"#000","tickSize":3,"labelColor":"#000","labelFontSize":11,"labelPadding":1,"labelFlush":false,"labelOverlap":false,"titleColor":"#000","titleFontSize":12.5,"titleFontWeight":"normal","titlePadding":2},
 "axisX":{"tickSize":2,"labelPadding":0,"titlePadding":-1},
 "title":{"fontSize":10.5,"fontWeight":"normal","color":"#000","offset":3},
 "legend":{"labelColor":"#000","padding":0,"symbolType":"stroke","symbolStrokeWidth":3,"symbolSize":150,"labelOffset":2,"rowPadding":0}
}
}
